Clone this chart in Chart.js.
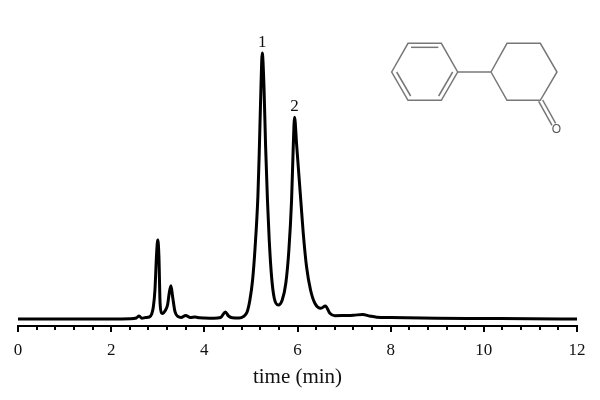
<!DOCTYPE html>
<html>
<head>
<meta charset="utf-8">
<style>
  html, body { margin: 0; padding: 0; background: #fff; }
  #wrap { position: relative; width: 600px; height: 400px; }
  #structure { position: absolute; left: 380px; top: 30px; }
</style>
<script src="https://cdn.jsdelivr.net/npm/chart.js@4"></script>
</head>
<body>
<div id="wrap">
  <canvas id="chromChart" width="600" height="400"></canvas>
  <!-- 3-phenylcyclohexanone drawing -->
  <svg id="structure" width="200" height="120" viewBox="0 0 600 360">
    <g fill="none" stroke="#777" stroke-width="4.5">
      <polygon points="35,126 84,40 184,40 233,126 184,211 84,211"/>
      <line x1="93" y1="52" x2="175" y2="52"/>
      <line x1="50" y1="126" x2="92" y2="198"/>
      <line x1="218" y1="126" x2="176" y2="198"/>
      <line x1="233" y1="126" x2="333" y2="126"/>
      <polyline points="333,126 381,40 481,40 531,126 481,211 381,211 333,126"/>
      <line x1="476" y1="214" x2="516" y2="286"/>
      <line x1="488" y1="210" x2="527" y2="280"/>
    </g>
    <text x="529" y="310" font-family="Liberation Sans" font-size="36" fill="#555" text-anchor="middle">O</text>
  </svg>
</div>
<script>
const times = [0, 1, 2, 2.4, 2.54, 2.6, 2.66, 2.74, 2.82, 2.87, 2.905, 2.94, 2.975, 3.0, 3.025, 3.05, 3.084, 3.11,
  3.155, 3.21, 3.247, 3.283, 3.32, 3.37, 3.44, 3.5, 3.6, 3.7, 3.8, 3.9, 4.0, 4.2, 4.35, 4.45, 4.52, 4.6, 4.75,
  4.835, 4.92, 4.978, 5.036, 5.086, 5.15, 5.178, 5.215, 5.243, 5.28, 5.315, 5.355, 5.393, 5.444, 5.5, 5.587,
  5.672, 5.75, 5.815, 5.873, 5.908, 5.937, 5.98, 6.07, 6.123, 6.195, 6.28, 6.373, 6.5, 6.6, 6.695, 6.8,
  7.0, 7.2, 7.4, 7.55, 7.7, 8, 9, 10, 11, 12];
const signal = [7, 7, 7, 7.2, 8, 10, 7.8, 8.5, 9, 12, 19, 36, 72, 86, 70, 23, 13, 12.5,
  15, 21, 33, 40.3, 29, 14.3, 9.3, 8.5, 10.5, 8.5, 9, 8.2, 8, 7.8, 8.5, 14, 10, 8.2, 8,
  9.3, 14.3, 26, 46, 76, 130, 172, 238, 273, 240, 180, 126, 86, 49, 28, 21,
  26, 43, 76, 126, 178, 208.7, 182, 126, 93, 59, 36, 22.7, 17.7, 20, 12.7, 10.3,
  10.5, 10.8, 11.5, 10, 8.8, 8.4, 7.8, 7.5, 7.2, 7];
const majorTicks = [0, 2, 4, 6, 8, 10, 12];
const minorStep = 0.4;
const peakTimes = [5.243, 5.937];
const peakValues = [273, 208.7];
const peakNames = ["1", "2"];

// short ticks in between the labelled ones, and the peak numbers
const extrasPlugin = {
  id: "extras",
  afterDraw(chart) {
    const { ctx, scales: { x, y } } = chart;
    ctx.save();
    ctx.strokeStyle = "#000";
    ctx.lineWidth = 2;
    for (let i = 0; i <= Math.round(12 / minorStep); i++) {
      const px = Math.round(x.getPixelForValue(i * minorStep));
      ctx.beginPath();
      ctx.moveTo(px, y.bottom);
      ctx.lineTo(px, y.bottom + 4);
      ctx.stroke();
    }
    ctx.fillStyle = "#111";
    ctx.font = "17px 'Liberation Serif'";
    ctx.textAlign = "center";
    ctx.textBaseline = "alphabetic";
    peakNames.forEach((name, i) => {
      ctx.fillText(name, x.getPixelForValue(peakTimes[i]), y.getPixelForValue(peakValues[i]) - 6);
    });
    ctx.restore();
  }
};

new Chart(document.getElementById("chromChart").getContext("2d"), {
  type: "line",
  data: {
    datasets: [{
      data: times.map((t, i) => ({ x: t, y: signal[i] })),
      borderColor: "#000",
      borderWidth: 3,
      pointRadius: 0,
      cubicInterpolationMode: "monotone",
      fill: false
    }]
  },
  options: {
    responsive: false,
    animation: false,
    layout: { padding: { left: 18, right: 23, top: 26, bottom: 0 } },
    plugins: { legend: { display: false }, tooltip: { enabled: false } },
    scales: {
      x: {
        type: "linear",
        min: 0,
        max: 12,
        afterBuildTicks: (scale) => { scale.ticks = majorTicks.map(v => ({ value: v })); },
        afterFit: (scale) => { scale.height = 74; },
        border: { color: "#000", width: 2 },
        grid: { drawOnChartArea: false, color: "#000", lineWidth: 2, tickLength: 6 },
        ticks: {
          color: "#111",
          font: { family: "'Liberation Serif'", size: 17 },
          maxRotation: 0,
          autoSkip: false,
          padding: 8
        },
        title: {
          display: true,
          text: "time (min)",
          color: "#111",
          font: { family: "'Liberation Serif'", size: 21 },
          padding: { top: 4, bottom: 10 }
        }
      },
      y: { display: false, min: 0, max: 300 }
    }
  },
  plugins: [extrasPlugin]
});
</script>
</body>
</html>
